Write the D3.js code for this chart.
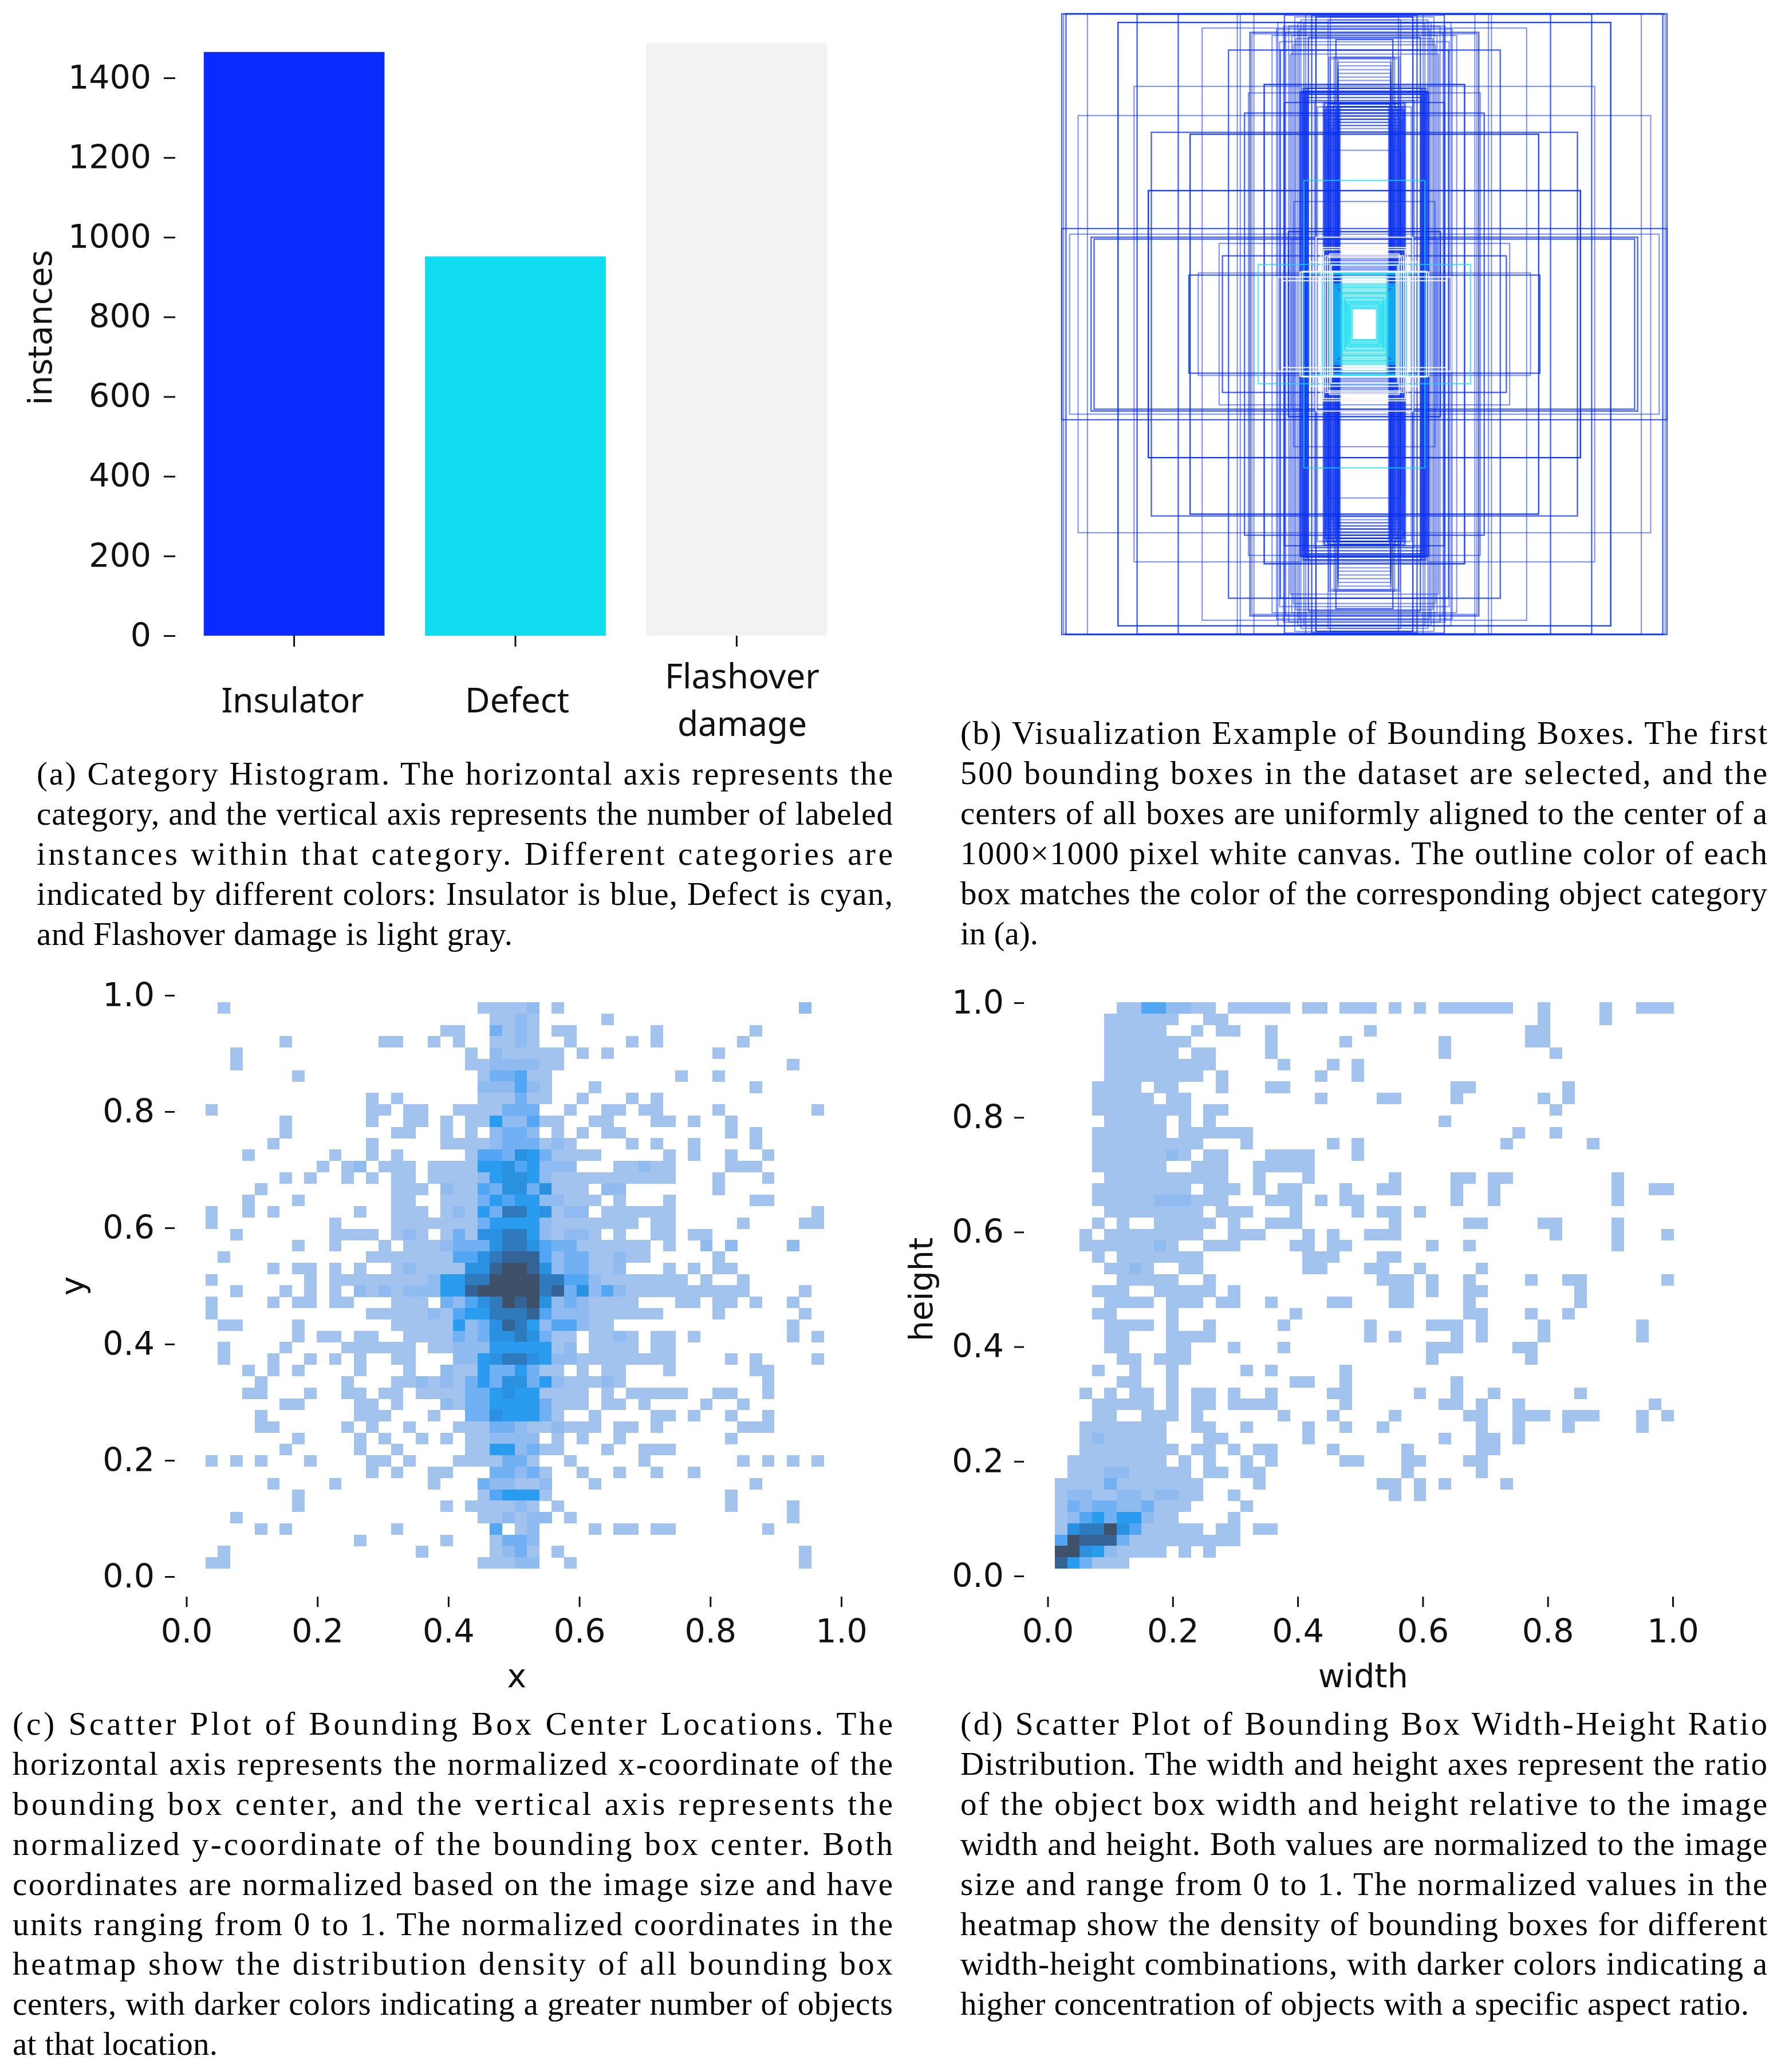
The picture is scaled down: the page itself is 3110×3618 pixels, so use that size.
<!DOCTYPE html>
<html><head><meta charset="utf-8">
<script src="https://cdn.jsdelivr.net/npm/d3@7"></script>
<style>
html,body{margin:0;padding:0;background:#fff}
svg{display:block}
.num{font-family:"DejaVu Sans";font-size:57px;fill:#111}
.cap{font-family:"Liberation Serif";font-size:57px;fill:#000}
</style></head><body><svg id="c" width="3110" height="3618"></svg>
<script>
// ---------- (a) bars
const categories = ["Insulator","Defect","Flashover damage"];
const instances = [1465,952,1488];
const barColors = ["#0a2bff","#0fdcee","#f2f2f2"];
const barTicks = [0,200,400,600,800,1000,1200,1400];
const unitTicks = [0,0.2,0.4,0.6,0.8,1.0];

// ---------- (b) bounding boxes: [width,height] as a share of the canvas
const blueBoxes = [
[1,1],[1,1],[.994,.998],[.986,1],[.986,1],[.915,1],[.751,1],[.751,.998],[.615,1],[.615,1],[.42,1],[.41,1],[.365,.998],[.264,1],[.264,.995],[.194,1],[.174,.995],[.174,.995],[.16,.99],[.16,.99],[.16,.99],
[.814,.972],[.814,.972],[.814,.972],[.536,.954],[.449,.883],[.449,.883],[.278,.883],[.278,.883],[.372,.935],[.286,.972],[.378,.94],[.378,.94],[.29,.95],[.305,.93],[.267,.96],
[.22,.97],[.24,.93],[.25,.96],[.23,.99],[.21,.98],[.28,.91],[.26,.94],[.235,.9],[.245,.87],[.215,.95],[.226,.92],
[.704,.618],[.704,.618],[.576,.612],[.576,.612],[.576,.612],[.714,.43],[.714,.43],[.714,.43],[.714,.43],[.946,.672],[.761,.766],[.331,.772],[.331,.772],[.331,.772],[.383,.745],[.396,.68],[.396,.68],[.264,.714],[.264,.714],[.2125,.748],[.2125,.748],
[1,.308],[1,.308],[.974,.29],[.903,.28],[.903,.28],[.893,.274],[.893,.274],[.48,.26],[.469,.22],[.469,.22],[.58,.158],[.58,.158],[.549,.165],[.251,.298],[.251,.298],[.251,.298],[.24,.274],
[.205,.74],[.204,.75],[.202,.76],[.2,.73],[.198,.75],[.196,.74],[.195,.76],[.193,.72],[.191,.75],[.19,.74],[.188,.73],[.186,.76],[.205,.75],[.2,.76],[.195,.74],[.19,.76],[.21,.745],[.208,.76],
[.136,.714],[.134,.70],[.132,.69],[.13,.714],[.128,.68],[.126,.70],[.124,.66],[.122,.71],[.12,.69],[.118,.65],[.116,.70],[.114,.67],[.112,.71],[.11,.64],[.108,.69],[.106,.63],[.104,.70],[.102,.66],[.1,.68],[.098,.62],[.096,.69],[.094,.65],[.092,.70],[.09,.67],[.088,.71],[.086,.64],[.084,.69],[.082,.66],[.08,.70],
[.133,.71],[.129,.69],[.125,.70],[.119,.71],[.113,.69],[.107,.70],[.101,.71],[.095,.69],[.089,.70],[.083,.71],[.165,.72],[.155,.70],
[.0875,.856],[.0875,.844],[.0875,.832],[.0875,.82],[.0875,.808],[.0875,.796],[.0875,.785],[.118,.86],[.1125,.855],[.1,.86],
[.094,.917],[.094,.917],[.185,.924],[.185,.924],[.1125,.99],[.2,.97],[.12,.98],[.233,.395],[.12,.56],
[.13,.22],[.125,.215],[.12,.21],[.115,.205],[.11,.2],[.105,.195],[.1,.19],[.095,.185],[.09,.18],[.085,.175],[.08,.17],[.075,.165]];
const cyanBoxes = [
[.2,.463],[.351,.192],[.2125,.168],[.18,.165],[.16,.165],[.14,.17],[.13,.165],[.12,.16],[.115,.15],[.11,.14],[.105,.13],[.1,.125],[.096,.12],[.092,.116],[.088,.11],[.084,.104],[.08,.1],[.076,.094],[.072,.088],[.068,.082],[.064,.076],[.06,.07],[.056,.064],[.052,.06],[.048,.056],[.044,.052],[.04,.05],[.064,.084],[.058,.072],[.05,.066],[.075,.1]];
const grayBoxes = [
[.2125,.168],[.205,.17],[.143,.247],[.135,.24],[.129,.22],[.122,.215],[.115,.226],[.11,.19],[.105,.17],[.289,.152],[.27,.14],[.16,.28],[.178,.2]];

// ---------- (c) centre density, top row first, level 0-9
const centerDensity = [
"01000 00000 00000 00000 00111 12010 00000 00000 00000 00020",
"00000 00000 00000 00000 00011 21000 00100 00000 00000 00000",
"00000 00000 00000 00001 10031 21011 00000 01000 00001 00000",
"00000 01000 00001 10010 10011 21001 00001 01000 00010 00000",
"00100 00000 00000 00000 01021 11110 10100 00000 01000 00000",
"00100 00000 00000 00000 01122 22110 00000 00000 00000 00100",
"00000 00100 00000 00000 00133 41100 00000 00010 01000 00000",
"00000 00000 00000 00000 00222 42100 01000 00000 00001 00000",
"00000 00000 00010 10000 00111 31100 10001 01000 00000 00000",
"10000 00000 00011 01100 11113 33001 00110 11000 01000 00001",
"00000 01000 00010 01101 01152 24110 01100 01101 00100 00000",
"00000 01000 00000 11001 01023 32010 10110 00000 00101 00000",
"00000 10000 00010 00001 11123 33121 00001 01001 00001 00000",
"00010 00000 10010 10000 01443 65311 11000 00101 00100 10000",
"00000 00001 01201 11011 11556 45222 00011 21100 00111 00000",
"00000 01010 01010 11011 11256 65211 11111 11100 01000 10000",
"00001 00000 00000 11102 11436 63611 10220 00000 01000 00000",
"00010 00100 00000 11001 11354 55221 11010 00100 00001 10000",
"10010 10000 00100 11101 21537 75612 20111 11100 00000 00001",
"10000 00000 10000 11111 11355 55211 11111 01100 00010 00011",
"00100 00000 11110 12101 31667 75212 21010 01101 10000 00000",
"00000 00100 10001 01112 33367 76433 11111 10100 20200 00200",
"01000 00000 00011 11111 44678 88423 31121 10000 01000 00000",
"00000 10110 10100 12111 16689 98623 31120 00101 01100 00000",
"10000 00010 11111 11125 57799 99774 42111 11110 10010 00000",
"00100 01010 10212 12225 58999 99783 62421 11111 11110 00010",
"10000 10110 11000 11103 24679 89623 21111 00011 01101 00100",
"10000 00000 00011 11121 45577 78422 21111 11000 01000 00010",
"01100 00100 00000 11111 52368 75244 21100 00000 00000 00100",
"00000 00101 10110 01111 32366 76311 01121 01101 00000 00101",
"01000 01000 01111 11011 22255 55512 01111 01100 00000 00000",
"01000 10010 10100 11000 22567 76522 11111 11100 00101 00001",
"00010 10100 00100 01002 11533 53110 10110 00100 00001 10000",
"00001 00000 01000 11212 13536 63521 11210 00000 00000 10000",
"00011 00010 01101 10111 13356 55111 10101 11110 01100 10000",
"00000 01100 00110 10002 13355 55311 10110 10000 10010 00000",
"00001 00000 00111 00010 03365 55310 01000 01101 00100 10000",
"00001 10000 01010 01000 11133 21121 11011 01000 00011 10000",
"00000 00100 00101 00101 01122 22010 10010 00000 00100 00000",
"00000 01000 00100 10000 01155 23110 00100 11100 00000 00000",
"10101 00010 00011 01000 11113 31001 00000 10000 00010 10101",
"00000 00000 00010 10011 00033 23100 10010 01001 00000 00000",
"00000 10000 10000 00010 00322 11200 01000 00000 00001 00000",
"00000 00100 00000 00000 00145 55100 00000 00000 00100 00000",
"00000 00100 00000 00001 01111 21010 00000 00000 00100 00100",
"00100 00000 00000 00000 00112 12201 00000 00000 00000 00100",
"00001 01000 00000 10000 00040 12000 01011 01100 00000 10000",
"00000 00000 00100 00001 00013 32000 00000 00000 00000 00000",
"01000 00000 00000 00100 00012 31010 00000 00000 00000 00010",
"11000 00000 00000 00000 00111 22001 00000 00000 00000 00010"];

// ---------- (d) width/height density, top row first, level 0-9
const sizeDensity = [
"00000 11442 21101 11110 11011 10101 01111 11001 00001 00111",
"00001 11111 00110 00000 00000 00000 00000 00001 00001 00000",
"00001 11110 01011 00100 00000 10000 00000 00011 00000 00000",
"00001 11111 10000 00100 00010 00000 01000 00011 00000 00000",
"00001 11111 01100 00100 00000 00000 01000 00000 10000 00000",
"00001 11111 11100 00010 00101 00000 00000 00000 00000 00000",
"00001 11111 11010 00000 01001 00000 00000 00000 00000 00000",
"00011 11011 00010 00110 00000 00000 00110 00000 01000 00000",
"00011 11101 10000 00000 01000 01100 00100 00001 01000 00000",
"00011 11111 10110 00000 00000 00000 00000 00000 10000 00000",
"00001 11110 10100 00000 00000 00000 01000 00000 00000 00000",
"00011 11110 11111 10000 00000 00000 00000 00100 10000 00000",
"00011 11111 11000 10000 00101 00000 00000 01000 00010 00000",
"00011 11112 10110 00111 10001 00000 00000 00000 00000 00000",
"00011 11110 01110 01111 10000 00000 00000 00000 00000 00000",
"00001 11111 11110 01000 10000 00100 00110 11000 00000 10000",
"00011 11111 10111 01011 00010 01100 00100 10000 00000 10011",
"00011 11122 21110 00111 01011 00000 00100 10000 00000 10000",
"00001 11111 11011 10001 00001 01101 00000 00000 00000 00000",
"00010 10011 11101 00111 00000 00100 00011 00001 10000 10000",
"00101 11111 11001 11000 10100 11100 00000 00000 10000 10001",
"00111 11121 00111 00001 10110 00000 10010 00000 00000 10000",
"00010 11111 11000 00000 11100 01100 00000 00000 00000 00000",
"00001 12100 11000 00000 11000 11001 00001 00000 00000 00000",
"00000 11111 00100 00000 00000 01110 10010 00010 01100 00001",
"00011 10011 11101 00000 00000 00110 10011 00000 00100 00000",
"00001 11101 11011 00100 00110 00110 00010 00000 00100 00000",
"00011 00001 00000 00001 00000 00000 00011 00010 01000 00000",
"00001 11101 00100 00010 00000 10000 11101 00001 00000 00100",
"00001 10001 11100 00000 00000 10100 00101 00001 00000 00100",
"00001 10001 10001 00010 00000 00000 11100 00110 00000 00000",
"00000 11011 10000 00000 00000 00000 10000 00010 00000 00000",
"00010 01001 00000 10100 00010 00000 00000 00000 00000 00000",
"00000 11001 00000 00001 10010 00000 00100 00000 00000 00000",
"00101 01101 01101 00100 00110 00001 00100 10000 00100 00000",
"00011 11101 01101 11100 00010 00000 01101 00100 00000 00010",
"00011 00111 01000 00010 00100 00100 00011 00111 01110 00101",
"00111 11110 01100 10000 10010 01000 00001 00100 01000 00100",
"00121 11110 00110 00000 10000 00000 01001 10100 00000 00000",
"00111 11111 01101 01100 00100 00010 00001 10000 00000 00000",
"01111 11110 10100 10100 00011 00011 00011 00000 00000 00000",
"01112 21111 10110 11000 00000 00010 00001 00000 00000 00000",
"11113 11111 11000 01000 00000 01101 01000 01000 00000 00000",
"12211 22122 11001 00000 00000 00101 00000 00000 00000 00000",
"13233 22311 10000 10000 00000 00000 00000 00000 00000 00000",
"12453 55211 00001 00000 00000 00000 00000 00000 00000 00000",
"16779 64111 11011 01100 00000 00000 00000 00000 00000 00000",
"49888 31111 11111 00000 00000 00000 00000 00000 00000 00000",
"99652 11110 10100 00000 00000 00000 00000 00000 00000 00000",
"85311 10000 00000 00000 00000 00000 00000 00000 00000 00000"];
const densityColors = ["#ffffff","#a1c3ed","#8fbbf0","#72b0f4","#52a6f3","#2a9cf0","#2a90e0","#2e7abd","#346496","#3f5069"];

// ---------- captions: [text, right end of the line]
const captionA = [["(a) Category Histogram. The horizontal axis represents the",1559],["category, and the vertical axis represents the number of labeled",1559],["instances within that category. Different categories are",1559],["indicated by different colors: Insulator is blue, Defect is cyan,",1559],["and Flashover damage is light gray.",895]];
const captionB = [["(b) Visualization Example of Bounding Boxes. The first",3086],["500 bounding boxes in the dataset are selected, and the",3086],["centers of all boxes are uniformly aligned to the center of a",3086],["1000×1000 pixel white canvas. The outline color of each",3086],["box matches the color of the corresponding object category",3086],["in (a).",1813]];
const captionC = [["(c) Scatter Plot of Bounding Box Center Locations. The",1559],["horizontal axis represents the normalized x-coordinate of the",1559],["bounding box center, and the vertical axis represents the",1559],["normalized y-coordinate of the bounding box center. Both",1559],["coordinates are normalized based on the image size and have",1559],["units ranging from 0 to 1. The normalized coordinates in the",1559],["heatmap show the distribution density of all bounding box",1559],["centers, with darker colors indicating a greater number of objects",1559],["at that location.",380]];
const captionD = [["(d) Scatter Plot of Bounding Box Width-Height Ratio",3086],["Distribution. The width and height axes represent the ratio",3086],["of the object box width and height relative to the image",3086],["width and height. Both values are normalized to the image",3086],["size and range from 0 to 1. The normalized values in the",3086],["heatmap show the density of bounding boxes for different",3086],["width-height combinations, with darker colors indicating a",3086],["higher concentration of objects with a specific aspect ratio.",3054]];

const svg = d3.select("#c");
svg.append("rect").attr("width",3110).attr("height",3618).attr("fill","#fff");

function styleAxis(g){
  g.select(".domain").remove();
  g.selectAll(".tick line").attr("stroke","#111").attr("stroke-width",3);
  g.selectAll("text").attr("class","num");
}

// (a)
const xBar = d3.scaleBand().domain(categories).range([321,1479]).paddingInner(0.183).paddingOuter(0.09);
const yBar = d3.scaleLinear().domain([0,1400]).range([1110,136]);
svg.append("g").selectAll("rect").data(categories).join("rect")
  .attr("x",d=>xBar(d)).attr("width",xBar.bandwidth())
  .attr("y",(d,i)=>yBar(instances[i])).attr("height",(d,i)=>yBar(0)-yBar(instances[i]))
  .attr("fill",(d,i)=>barColors[i]);
svg.append("g").attr("transform","translate(306,0)")
  .call(d3.axisLeft(yBar).tickValues(barTicks).tickFormat(d3.format("d")).tickSize(20).tickPadding(22)).call(styleAxis);
svg.append("g").attr("transform","translate(0,1110)")
  .call(d3.axisBottom(xBar).tickSize(19).tickFormat("")).call(g=>g.select(".domain").remove())
  .call(g=>g.selectAll(".tick line").attr("stroke","#111").attr("stroke-width",3));
const catLabels = [["Insulator",511,1244,249],["Defect",903,1244,182],["Flashover",1296,1202,270],["damage",1296,1285,226]];
svg.append("g").selectAll("text").data(catLabels).join("text")
  .attr("x",d=>d[1]).attr("y",d=>d[2]).attr("text-anchor","middle")
  .attr("textLength",d=>d[3]).attr("lengthAdjust","spacingAndGlyphs")
  .style("font-family","'Noto Sans'").style("font-size","60px").attr("fill","#111").text(d=>d[0]);
svg.append("text").attr("transform","translate(90,572) rotate(-90)").attr("text-anchor","middle")
  .attr("class","num").text("instances");

// (b)
const boxX = d3.scaleLinear().domain([0,1]).range([1854,2911]);
const boxY = d3.scaleLinear().domain([0,1]).range([24,1108]);
function drawBoxes(list,color,op){
  svg.append("g").selectAll("rect").data(list).join("rect")
    .attr("x",d=>boxX(.5-d[0]/2)).attr("y",d=>boxY(.5-d[1]/2))
    .attr("width",d=>boxX(d[0])-boxX(0)).attr("height",d=>boxY(d[1])-boxY(0))
    .attr("fill","none").attr("stroke",color).attr("stroke-opacity",op).attr("stroke-width",2.2);
}
drawBoxes(blueBoxes,"#0a30f0",0.5);
drawBoxes(cyanBoxes,"#0fdcee",0.7);
drawBoxes(grayBoxes,"#f4f4f4",0.9);

// (c) + (d)
function heat(rows,xs,ys,xBins,yBins,xName,yName,tickX,yLabelX){
  const grid = rows.map(r=>r.replace(/ /g,""));
  const xE = d3.range(51).map(i=>xBins[0]+(xBins[1]-xBins[0])*i/50);
  const yE = d3.range(51).map(i=>yBins[1]-(yBins[1]-yBins[0])*i/50);
  const cells=[];
  grid.forEach((r,j)=>[...r].forEach((v,i)=>{ if(+v>0) cells.push({i,j,v:+v}); }));
  svg.append("g").attr("shape-rendering","crispEdges").selectAll("rect").data(cells).join("rect")
    .attr("x",d=>xs(xE[d.i])).attr("y",d=>ys(yE[d.j]))
    .attr("width",d=>xs(xE[d.i+1])-xs(xE[d.i])+0.3).attr("height",d=>ys(yE[d.j+1])-ys(yE[d.j])+0.3)
    .attr("fill",d=>densityColors[d.v]);
  svg.append("g").attr("transform",`translate(${tickX},0)`)
    .call(d3.axisLeft(ys).tickValues(unitTicks).tickFormat(d3.format(".1f")).tickSize(17).tickPadding(18)).call(styleAxis);
  svg.append("g").attr("transform","translate(0,2788)")
    .call(d3.axisBottom(xs).tickValues(unitTicks).tickFormat(d3.format(".1f")).tickSize(18).tickPadding(22)).call(styleAxis);
  svg.append("text").attr("x",(xs(0)+xs(1))/2+5).attr("y",2946).attr("text-anchor","middle").attr("class","num").text(xName);
  svg.append("text").attr("transform",`translate(${yLabelX},${(ys(0)+ys(1))/2}) rotate(-90)`).attr("text-anchor","middle").attr("class","num").text(yName);
}
const cX = d3.scaleLinear().domain([0,1]).range([325.5,1469]);
const cY = d3.scaleLinear().domain([0,1]).range([2753,1738]);
heat(centerDensity,cX,cY,[.0289,.9734],[.0138,.9882],"x","y",305,146);
const dX = d3.scaleLinear().domain([0,1]).range([1829.5,2921]);
const dY = d3.scaleLinear().domain([0,1]).range([2752,1751]);
heat(sizeDensity,dX,dY,[.01136,1.0012],[.013,1.001],"width","height",1788,1628);

// captions
function caption(lines,left,top){
  svg.append("g").selectAll("text").data(lines).join("text").attr("class","cap")
    .attr("x",left).attr("y",(d,i)=>top+i*69.9)
    .attr("textLength",d=>d[1]-left).attr("lengthAdjust","spacing").text(d=>d[0]);
}
caption(captionA,64,1370);
caption(captionB,1677,1299);
caption(captionC,22,3029);
caption(captionD,1677,3029);
</script></body></html>
